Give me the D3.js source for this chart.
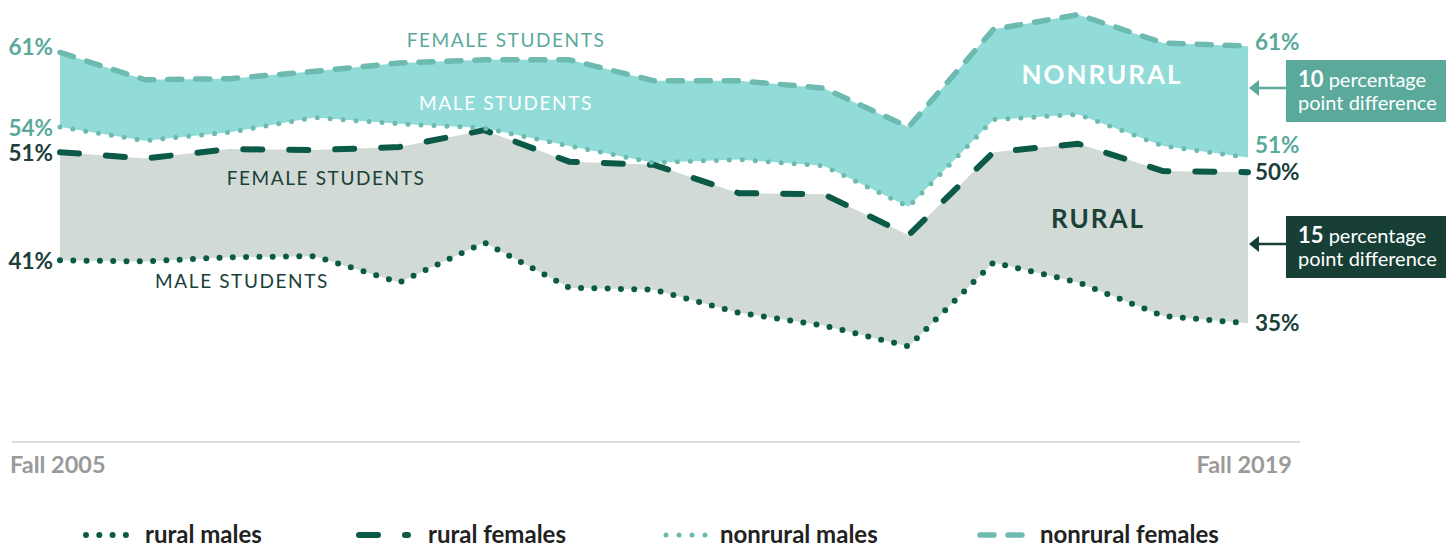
<!DOCTYPE html>
<html>
<head>
<meta charset="utf-8">
<script src="https://cdn.jsdelivr.net/npm/d3@7"></script>
<style>
  body { margin: 0; background: #fff; }
  svg { font-family: Lato, "Open Sans", sans-serif; }
  .in-label { font-size: 19px; letter-spacing: 1.6px; }
  .pct { font-size: 22.5px; font-weight: 700; }
  .legend-text { font-size: 24px; font-weight: 700; fill: #222; }
</style>
</head>
<body>
<div class="container"></div>
<script>
const width = 1453,
      height = 550;

const years = d3.range(2005, 2020);

// shares, one value per fall term
const nonruralFemales = [60.7, 58.1, 58.2, 58.9, 59.7, 60.0, 60.0, 58.0, 58.0, 57.3, 53.6, 62.9, 64.3, 61.6, 61.3];
const nonruralMales   = [53.6, 52.3, 53.1, 54.5, 53.9, 53.5, 51.8, 50.2, 50.5, 49.9, 46.0, 54.3, 54.8, 51.8, 50.7];
const ruralFemales    = [51.2, 50.6, 51.5, 51.4, 51.7, 53.3, 50.3, 50.0, 47.3, 47.2, 43.3, 51.2, 52.0, 49.4, 49.3];
const ruralMales      = [40.9, 40.8, 41.2, 41.3, 38.8, 42.6, 38.3, 38.1, 35.9, 34.7, 32.7, 40.7, 38.8, 35.6, 34.9];

const startLabels = ["61%", "54%", "51%", "41%"];
const endLabels   = ["61%", "51%", "50%", "35%"];
const diffs = [10, 15];
const legendNames = ["rural males", "rural females", "nonrural males", "nonrural females"];

const teal = "#6dbab0",
      tealText = "#5aa99b",
      dark = "#0b5a47",
      darkText = "#1a4038";

const svg = d3.select(".container")
    .append("svg")
    .attr("width", width)
    .attr("height", height);

const xScale = d3.scalePoint()
    .domain(years)
    .range([60, 1248]);

const yScale = d3.scaleLinear()
    .domain([23.6, 65])
    .range([442, 7.3]);

const rows = years.map((y, i) => ({
    year: y,
    nf: nonruralFemales[i],
    nm: nonruralMales[i],
    rf: ruralFemales[i],
    rm: ruralMales[i]
}));

// shaded bands
const area = (hi, lo) => d3.area()
    .x(d => xScale(d.year))
    .y0(d => yScale(d[lo]))
    .y1(d => yScale(d[hi]));

svg.append("path")
    .datum(rows)
    .attr("d", area("rf", "rm"))
    .attr("fill", "#d1dad5");

svg.append("path")
    .datum(rows)
    .attr("d", area("nf", "nm"))
    .attr("fill", "#91dcd8");

// axis line + end labels
svg.append("line")
    .attr("x1", 12)
    .attr("x2", 1300)
    .attr("y1", 442)
    .attr("y2", 442)
    .attr("stroke", "#dcdcdc")
    .attr("stroke-width", 2);

svg.append("text")
    .attr("x", 10)
    .attr("y", 473)
    .attr("font-size", 23.5)
    .attr("font-weight", 700)
    .attr("fill", "#9a9a9a")
    .text("Fall " + years[0]);

svg.append("text")
    .attr("x", 1292)
    .attr("y", 473)
    .attr("text-anchor", "end")
    .attr("font-size", 23.5)
    .attr("font-weight", 700)
    .attr("fill", "#9a9a9a")
    .text("Fall " + years[years.length - 1]);

// series lines
const series = [
    {key: "rm", color: dark, width: 6, dash: "0, 13.3"},
    {key: "rf", color: dark, width: 6, dash: "19, 27"},
    {key: "nm", color: teal, width: 5, dash: "0, 13"},
    {key: "nf", color: teal, width: 5.5, dash: "14, 14"}
];

series.forEach(s => {
    svg.append("path")
        .datum(rows)
        .attr("d", d3.line().x(d => xScale(d.year)).y(d => yScale(d[s.key])))
        .attr("fill", "none")
        .attr("stroke", s.color)
        .attr("stroke-width", s.width)
        .attr("stroke-dasharray", s.dash)
        .attr("stroke-linecap", "round")
        .attr("stroke-linejoin", "round");
});

// in-chart labels
svg.append("text").classed("in-label", true)
    .attr("x", 506).attr("y", 47).attr("text-anchor", "middle")
    .attr("fill", tealText).text("FEMALE STUDENTS");
svg.append("text").classed("in-label", true)
    .attr("x", 506).attr("y", 110).attr("text-anchor", "middle")
    .attr("fill", "#fff").text("MALE STUDENTS");
svg.append("text").classed("in-label", true)
    .attr("x", 326).attr("y", 185).attr("text-anchor", "middle")
    .attr("fill", darkText).text("FEMALE STUDENTS");
svg.append("text").classed("in-label", true)
    .attr("x", 242).attr("y", 288).attr("text-anchor", "middle")
    .attr("fill", darkText).text("MALE STUDENTS");

svg.append("text")
    .attr("x", 1102).attr("y", 84).attr("text-anchor", "middle")
    .attr("font-size", 26).attr("font-weight", 700).attr("letter-spacing", 2)
    .attr("fill", "#fff").text("NONRURAL");
svg.append("text")
    .attr("x", 1098).attr("y", 228).attr("text-anchor", "middle")
    .attr("font-size", 26).attr("font-weight", 700).attr("letter-spacing", 2)
    .attr("fill", darkText).text("RURAL");

// start / end percentages
const startY = [nonruralFemales[0] + 0.6, nonruralMales[0], ruralFemales[0], ruralMales[0]];
const startCol = [tealText, tealText, darkText, darkText];
svg.selectAll(".pct-start")
    .data(startLabels)
    .join("text")
    .classed("pct", true)
    .attr("x", 53)
    .attr("y", (d, i) => yScale(startY[i]) + 1)
    .attr("dy", "0.35em")
    .attr("text-anchor", "end")
    .attr("fill", (d, i) => startCol[i])
    .text(d => d);

const last = years.length - 1;
const endY = [nonruralFemales[last] + 0.4, nonruralMales[last] + 1.2, ruralFemales[last], ruralMales[last]];
svg.selectAll(".pct-end")
    .data(endLabels)
    .join("text")
    .classed("pct", true)
    .attr("x", 1255)
    .attr("y", (d, i) => yScale(endY[i]))
    .attr("dy", "0.35em")
    .attr("fill", (d, i) => startCol[i])
    .text(d => d);

// difference callouts
const boxes = [
    {top: 60, color: "#5aa99b"},
    {top: 216, color: "#173f35"}
];

boxes.forEach((b, i) => {
    const g = svg.append("g");
    g.append("rect")
        .attr("x", 1286).attr("y", b.top)
        .attr("width", 160).attr("height", 62)
        .attr("fill", b.color);
    const ay = b.top + 28;
    g.append("line")
        .attr("x1", 1286).attr("x2", 1256)
        .attr("y1", ay).attr("y2", ay)
        .attr("stroke", b.color).attr("stroke-width", 2.5);
    g.append("path")
        .attr("d", `M1249,${ay} L1259,${ay - 8} L1259,${ay + 8} Z`)
        .attr("fill", b.color);
    const t = g.append("text")
        .attr("x", 1298).attr("y", b.top + 27)
        .attr("fill", "#fff").attr("font-size", 20);
    t.append("tspan").attr("font-weight", 700).attr("font-size", 22).text(diffs[i]);
    t.append("tspan").text(" percentage");
    g.append("text")
        .attr("x", 1298).attr("y", b.top + 50)
        .attr("fill", "#fff").attr("font-size", 20)
        .text("point difference");
});

// legend
const legendX = [83, 356, 663, 977];
const legendTextX = [145, 428, 720, 1040];
const legend = svg.selectAll(".legend")
    .data(series)
    .join("g")
    .classed("legend", true);

legend.append("line")
    .attr("x1", (d, i) => legendX[i] + 3)
    .attr("x2", (d, i) => legendX[i] + 52)
    .attr("y1", 535)
    .attr("y2", 535)
    .attr("stroke", d => d.color)
    .attr("stroke-width", d => d.width)
    .attr("stroke-dasharray", d => d.dash)
    .attr("stroke-linecap", "round");

legend.append("text")
    .classed("legend-text", true)
    .attr("x", (d, i) => legendTextX[i])
    .attr("y", 535)
    .attr("dy", "0.35em")
    .text((d, i) => legendNames[i]);
</script>
</body>
</html>
